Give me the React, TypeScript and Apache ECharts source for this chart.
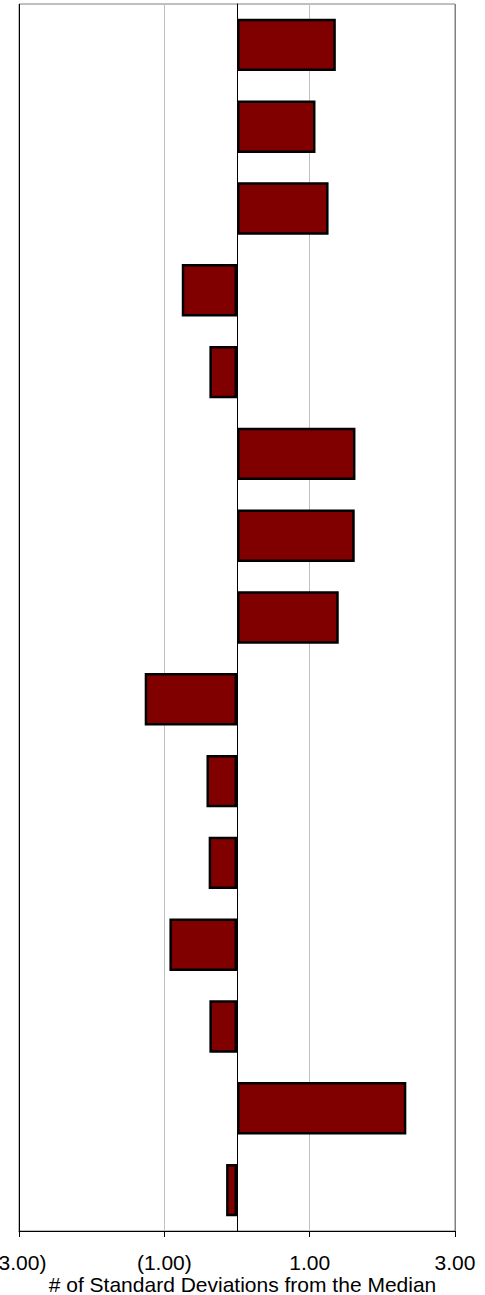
import React, { useEffect, useRef } from "react";
import * as echarts from "echarts";

const categories = ["1", "2", "3", "4", "5", "6", "7", "8", "9", "10", "11", "12", "13", "14", "15"];
const values = [1.36, 1.08, 1.26, -0.76, -0.38, 1.63, 1.62, 1.4, -1.27, -0.42, -0.39, -0.93, -0.38, 2.33, -0.15];
const xTicks = { min: -3, max: 3, interval: 2 };
const xTitle = "# of Standard Deviations from the Median";

const fmt = (v: number) => (v < 0 ? `(${Math.abs(v).toFixed(2)})` : v.toFixed(2));

export default function App() {
  const ref = useRef<HTMLDivElement>(null);
  useEffect(() => {
    if (!ref.current) return;
    const chart = echarts.init(ref.current, undefined, { renderer: "svg" });
    const font = "'Liberation Sans', Arial, Helvetica, sans-serif";
    chart.setOption({
      animation: false,
      grid: {
        left: 19,
        right: 30,
        top: 4,
        bottom: 64,
        containLabel: false,
        outerBoundsMode: "none",
        show: true,
        borderColor: "#808080",
        borderWidth: 1,
        backgroundColor: "#fff",
      },
      xAxis: {
        type: "value",
        min: xTicks.min,
        max: xTicks.max,
        interval: xTicks.interval,
        axisLine: { show: true, onZero: false, lineStyle: { color: "#000", width: 1 } },
        axisTick: { show: true, length: 6, lineStyle: { color: "#000" } },
        axisLabel: {
          formatter: fmt,
          color: "#000",
          fontSize: 21,
          fontFamily: font,
          margin: 21,
          showMinLabel: true,
          showMaxLabel: true,
        },
        splitLine: {
          show: true,
          lineStyle: { color: ["#000", "#c0c0c0", "#c0c0c0", "#808080"], width: 1 },
        },
      },
      yAxis: {
        type: "category",
        data: categories,
        inverse: true,
        axisLine: { show: true, onZero: true, lineStyle: { color: "#000", width: 1 } },
        axisTick: { show: false },
        axisLabel: { show: false },
        splitLine: { show: false },
      },
      graphic: [
        {
          type: "text",
          left: "center",
          top: 1274,
          style: {
            text: xTitle,
            fill: "#000",
            fontSize: 21,
            fontFamily: font,
          },
        },
      ],
      series: [
        {
          type: "bar",
          data: values,
          barCategoryGap: "36%",
          itemStyle: { color: "#800000", borderColor: "#000", borderWidth: 2.5 },
          z: 3,
        },
      ],
    });
    return () => chart.dispose();
  }, []);
  return (
    <div
      ref={ref}
      style={{ position: "fixed", left: 0, top: 0, width: 485, height: 1295, background: "#fff" }}
    />
  );
}
